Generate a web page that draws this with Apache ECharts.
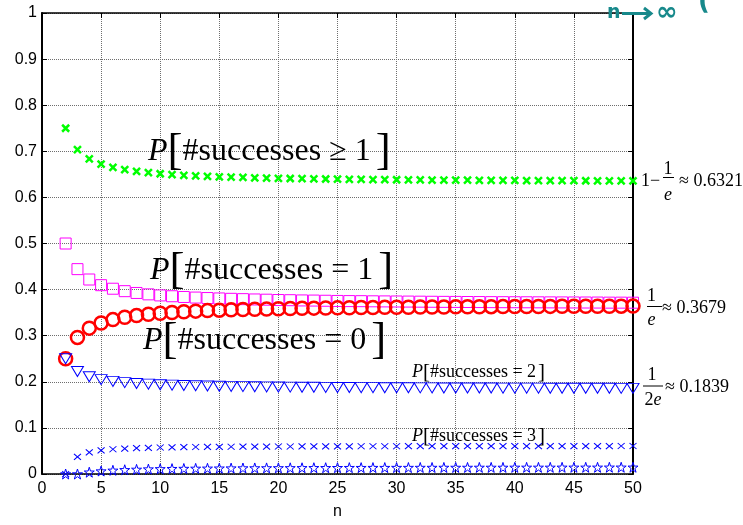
<!DOCTYPE html>
<html>
<head>
<meta charset="utf-8">
<script src="https://cdn.jsdelivr.net/npm/echarts@6/dist/echarts.min.js"></script>
<style>
html,body{margin:0;padding:0;background:#fff;}
#c{width:743px;height:525px;}
</style>
</head>
<body>
<div id="c"></div>
<script>
// ---- data ----
const nValues = [2,3,4,5,6,7,8,9,10,11,12,13,14,15,16,17,18,19,20,21,22,23,24,25,26,27,28,29,30,31,32,33,34,35,36,37,38,39,40,41,42,43,44,45,46,47,48,49,50];

const pAtLeastOne = [0.7500,0.7037,0.6836,0.6723,0.6651,0.6601,0.6564,0.6536,0.6513,0.6495,0.6480,0.6467,0.6456,0.6446,0.6439,0.6432,0.6426,0.6420,0.6415,0.6410,0.6406,0.6402,0.6399,0.6396,0.6393,0.6390,0.6388,0.6385,0.6383,0.6381,0.6379,0.6377,0.6376,0.6374,0.6373,0.6371,0.6370,0.6369,0.6367,0.6366,0.6365,0.6364,0.6363,0.6362,0.6361,0.6360,0.6360,0.6359,0.6358];

const pExactlyOne = [0.5000,0.4444,0.4219,0.4096,0.4019,0.3966,0.3927,0.3897,0.3874,0.3856,0.3840,0.3827,0.3817,0.3808,0.3800,0.3793,0.3786,0.3781,0.3774,0.3770,0.3765,0.3762,0.3758,0.3754,0.3751,0.3749,0.3746,0.3744,0.3742,0.3740,0.3738,0.3736,0.3734,0.3733,0.3731,0.3730,0.3728,0.3727,0.3726,0.3725,0.3724,0.3723,0.3722,0.3721,0.3720,0.3719,0.3717,0.3717,0.3716];

const pNone = [0.2500,0.2963,0.3164,0.3277,0.3349,0.3399,0.3436,0.3464,0.3487,0.3505,0.3520,0.3533,0.3544,0.3554,0.3561,0.3568,0.3574,0.3580,0.3585,0.3590,0.3594,0.3598,0.3601,0.3604,0.3607,0.3610,0.3612,0.3615,0.3617,0.3619,0.3621,0.3623,0.3624,0.3626,0.3627,0.3629,0.3630,0.3631,0.3633,0.3634,0.3635,0.3636,0.3637,0.3638,0.3639,0.3640,0.3640,0.3641,0.3642];

const pExactlyTwo = [0.2500,0.2222,0.2109,0.2048,0.2009,0.1983,0.1963,0.1949,0.1937,0.1928,0.1920,0.1914,0.1908,0.1904,0.1900,0.1896,0.1893,0.1890,0.1887,0.1885,0.1883,0.1881,0.1879,0.1877,0.1876,0.1874,0.1873,0.1872,0.1871,0.1870,0.1869,0.1868,0.1867,0.1866,0.1866,0.1865,0.1864,0.1863,0.1863,0.1862,0.1862,0.1861,0.1861,0.1860,0.1860,0.1859,0.1859,0.1858,0.1858];

const pExactlyThree = [0.0000,0.0370,0.0469,0.0512,0.0536,0.0551,0.0561,0.0568,0.0574,0.0578,0.0582,0.0585,0.0587,0.0589,0.0591,0.0593,0.0594,0.0595,0.0596,0.0597,0.0598,0.0598,0.0599,0.0600,0.0600,0.0601,0.0601,0.0602,0.0602,0.0603,0.0603,0.0603,0.0603,0.0604,0.0604,0.0604,0.0605,0.0605,0.0605,0.0605,0.0605,0.0606,0.0606,0.0606,0.0606,0.0606,0.0606,0.0607,0.0607];

const pExactlyFour = [0.0000,0.0000,0.0039,0.0064,0.0080,0.0092,0.0100,0.0107,0.0112,0.0116,0.0119,0.0122,0.0124,0.0126,0.0128,0.0130,0.0131,0.0132,0.0133,0.0134,0.0135,0.0136,0.0136,0.0137,0.0138,0.0138,0.0139,0.0139,0.0140,0.0140,0.0141,0.0141,0.0142,0.0142,0.0142,0.0143,0.0143,0.0143,0.0144,0.0144,0.0144,0.0144,0.0145,0.0145,0.0145,0.0145,0.0146,0.0146,0.0146];

const xAxisName = 'n';
const limitLabels = ['≈ 0.6321', '≈ 0.3679', '≈ 0.1839'];

// ---- chart ----
const SERIF = "'Liberation Serif','Times New Roman',serif";
const SANS = "'Liberation Sans',Arial,sans-serif";
const X_PATH = 'path://M0,0L10,10M10,0L0,10';
const STAR_PATH = 'path://M100,0L122.45,69.1L195.1,69.1L136.3,111.8L158.8,180.9L100,138.2L41.2,180.9L63.7,111.8L4.9,69.1L77.55,69.1Z';
const CLEAR = 'rgba(0,0,0,0)';

const pairs = arr => nValues.map((n, i) => [n, arr[i]]);

function scatter(name, data, symbol, size, border, width, extra) {
  return Object.assign({
    name, type: 'scatter', data: pairs(data), symbol, symbolSize: size,
    silent: true, animation: false,
    itemStyle: { color: CLEAR, borderColor: border, borderWidth: width, opacity: 1 }
  }, extra || {});
}

function bigLabel(x, yMid, body, size, bsize, pad) {
  return {
    type: 'text', x: x, y: yMid, z: 100, silent: true,
    style: {
      text: '{p|P}{b|[}{t|' + body + '}{c|]}',
      align: 'left', verticalAlign: 'middle', textAlign: 'left', textVerticalAlign: 'middle',
      fill: '#000',
      rich: {
        p: { fontFamily: SERIF, fontStyle: 'italic', fontSize: size, verticalAlign: 'middle', fill: '#000' },
        b: { fontFamily: SERIF, fontSize: bsize, verticalAlign: 'middle', fill: '#000' },
        t: { fontFamily: SERIF, fontSize: size, verticalAlign: 'middle', fill: '#000' },
        c: { fontFamily: SERIF, fontSize: bsize, verticalAlign: 'middle', fill: '#000', padding: [0, 0, 0, pad] }
      }
    }
  };
}

function t(x, y, text, size, align, italic, color, weight, family) {
  return {
    type: 'text', x: x, y: y, z: 100, silent: true,
    style: {
      text: text, fontFamily: family || SERIF, fontSize: size,
      fontStyle: italic ? 'italic' : 'normal', fontWeight: weight || 'normal',
      fill: color || '#000',
      align: align || 'left', textAlign: align || 'left',
      verticalAlign: 'middle', textVerticalAlign: 'middle'
    }
  };
}
function hline(x1, x2, y, color, w) {
  return { type: 'line', z: 100, silent: true, shape: { x1: x1, y1: y, x2: x2, y2: y }, style: { stroke: color || '#000', lineWidth: w || 1 } };
}

const TEAL = '#17898b';

const graphics = [
  bigLabel(148, 152, '#successes ≥ 1', 32, 45, 5),
  bigLabel(150, 271, '#successes = 1', 32, 45, 5),
  bigLabel(143, 341, '#successes = 0', 32, 45, 5),
  bigLabel(412, 372, '#successes = 2', 18, 21, 2),
  bigLabel(412, 436, '#successes = 3', 18, 21, 2),
  // 1 - 1/e ≈ 0.6321
  t(641, 181.5, '1−', 18),
  t(668, 169, '1', 18, 'center'),
  hline(663, 674, 177.5),
  t(668, 195, 'e', 18, 'center', true),
  t(679, 181.5, limitLabels[0], 18),
  // 1/e ≈ 0.3679
  t(651.5, 296.5, '1', 18, 'center'),
  hline(647, 662, 306.5),
  t(651.5, 320, 'e', 18, 'center', true),
  t(662, 308, limitLabels[1], 18),
  // 1/(2e) ≈ 0.1839
  t(652, 375.5, '1', 18, 'center'),
  hline(643, 663, 386),
  { type: 'text', x: 653, y: 400.5, z: 100, silent: true,
    style: { text: '{a|2}{b|e}', align: 'center', textAlign: 'center', verticalAlign: 'middle', textVerticalAlign: 'middle',
      rich: { a: { fontFamily: SERIF, fontSize: 18, fill: '#000' }, b: { fontFamily: SERIF, fontSize: 18, fontStyle: 'italic', fill: '#000' } } } },
  t(665, 387.5, limitLabels[2], 18),
  // handwritten note
  t(607, 13, 'n', 19, 'left', false, TEAL, 'bold', "'DejaVu Sans',sans-serif"),
  hline(622, 650, 13.5, TEAL, 3),
  { type: 'polyline', z: 100, silent: true, shape: { points: [[644, 8], [651, 13.5], [644, 19]] }, style: { stroke: TEAL, lineWidth: 3, fill: null } },
  t(656, 13, '∞', 26, 'left', false, TEAL, 'bold', "'DejaVu Sans',sans-serif"),
  t(698, 2, '(', 26, 'left', false, TEAL, 'bold', "'DejaVu Sans',sans-serif")
];

const axisCommon = {
  axisLine: { show: true, onZero: false, lineStyle: { color: '#000', width: 1.5 } },
  axisTick: { show: true, inside: true, length: 5, lineStyle: { color: '#000', width: 1 } }
};

const option = {
  backgroundColor: '#fff',
  animation: false,
  grid: { left: 42, right: 110, top: 13, bottom: 47, containLabel: false },
  xAxis: [
    Object.assign({}, axisCommon, {
      type: 'value', min: 0, max: 50, interval: 5, position: 'bottom',
      name: xAxisName, nameLocation: 'middle', nameGap: 30,
      nameTextStyle: { fontFamily: SANS, fontSize: 16, color: '#000' },
      axisLabel: { color: '#000', fontFamily: SANS, fontSize: 16, margin: 7 },
      splitLine: { show: true, lineStyle: { color: '#6e6e6e', type: [1, 1], width: 1 } }
    }),
    Object.assign({}, axisCommon, {
      type: 'value', min: 0, max: 50, interval: 5, position: 'top',
      axisLabel: { show: false }, splitLine: { show: false }
    })
  ],
  yAxis: [
    Object.assign({}, axisCommon, {
      type: 'value', min: 0, max: 1, interval: 0.1, position: 'left',
      axisLine: { show: true, onZero: false, lineStyle: { color: '#000', width: 2 } },
      axisLabel: { color: '#000', fontFamily: SANS, fontSize: 16, margin: 5 },
      splitLine: { show: true, lineStyle: { color: '#6e6e6e', type: [1, 1], width: 1 } }
    }),
    Object.assign({}, axisCommon, {
      type: 'value', min: 0, max: 1, interval: 0.1, position: 'right',
      axisLine: { show: true, onZero: false, lineStyle: { color: '#000', width: 2 } },
      axisLabel: { show: false }, splitLine: { show: false }
    })
  ],
  series: [
    scatter('P[#successes ≥ 1]', pAtLeastOne, X_PATH, [7, 7], '#00ff00', 2.5, { z: 2 }),
    scatter('P[#successes = 1]', pExactlyOne, 'rect', [11, 11], '#ff00ff', 1, { z: 3 }),
    scatter('P[#successes = 0]', pNone, 'circle', [13, 13], '#ff0000', 2.5, { z: 4 }),
    scatter('P[#successes = 2]', pExactlyTwo, 'triangle', [12, 10], '#0000ff', 1, { z: 5, symbolRotate: 180 }),
    scatter('P[#successes = 3]', pExactlyThree, X_PATH, [7, 6], '#0000ff', 1, { z: 6 }),
    scatter('P[#successes = 4]', pExactlyFour, STAR_PATH, [10, 10], '#0000ff', 1, { z: 7 })
  ],
  graphic: graphics
};

const chart = echarts.init(document.getElementById('c'), null, { renderer: 'canvas' });
chart.setOption(option);
</script>
</body>
</html>
